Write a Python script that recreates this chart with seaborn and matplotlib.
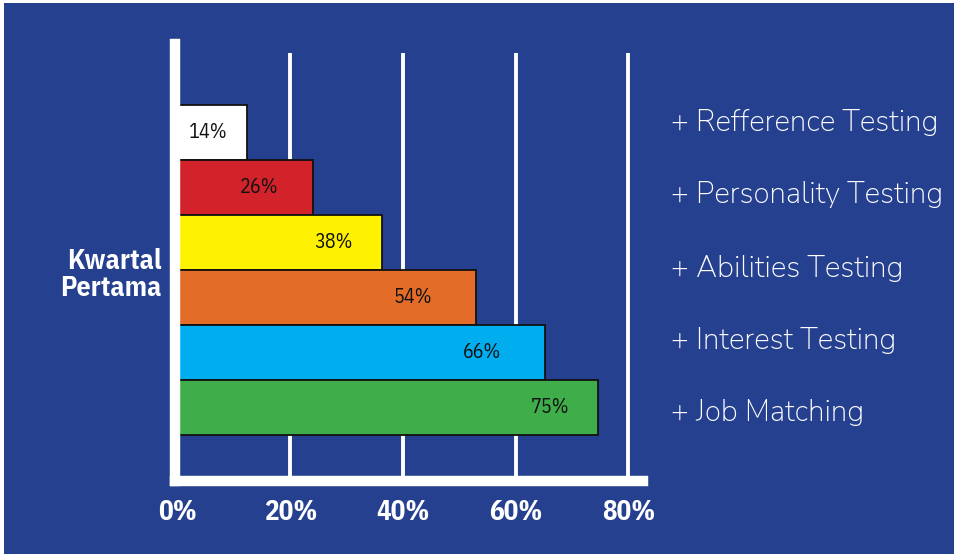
import matplotlib
matplotlib.use("Agg")
import matplotlib.pyplot as plt
import seaborn as sns
import pandas as pd
from matplotlib.patches import Rectangle

# ---- data ----
bar_ids = ["b1", "b2", "b3", "b4", "b5", "b6"]
values = [12.4, 24.0, 36.3, 53.0, 65.3, 74.7]          # bar lengths as drawn (percent)
value_labels = ["14%", "26%", "38%", "54%", "66%", "75%"]
bar_colors = ["#FFFFFF", "#D3232A", "#FFF200", "#E36C28", "#00AEEF", "#3FAD49"]
legend_labels = ["+ Refference Testing", "+ Personality Testing", "+ Abilities Testing",
                 "+ Interest Testing", "+ Job Matching"]
tick_values = [0, 20, 40, 60, 80]
tick_labels = ["0%", "20%", "40%", "60%", "80%"]
group_label = "Kwartal\nPertama"

BG = "#25408F"
W, H, DPI = 955, 554, 100
COND = ['IBM Plex Sans Condensed', 'Roboto Condensed', 'DejaVu Sans']
LIST_FONT = ['Nunito Sans', 'Lato', 'DejaVu Sans']

sns.set_theme(style="white")
plt.rcParams['font.family'] = COND

fig = plt.figure(figsize=(W / DPI, H / DPI), dpi=DPI)
fig.patch.set_facecolor("white")
fig.patches.append(Rectangle((4 / W, 0), (W - 5) / W, (H - 3) / H, transform=fig.transFigure,
                             facecolor=BG, edgecolor="none", zorder=-10))

# axes placement in pixels (spines use projecting caps of half their width)
SPW = 7.5
x0_px, x1_px = 174.5, 646.7 - 3.7
y_top_px, y_bot_px = 40 + 3.7, 480.5
ax = fig.add_axes([x0_px / W, 1 - y_bot_px / H, (x1_px - x0_px) / W, (y_bot_px - y_top_px) / H])
ax.set_facecolor("none")

df = pd.DataFrame({"bar": bar_ids, "value": values})
sns.barplot(data=df, y="bar", x="value", hue="bar", palette=bar_colors, order=bar_ids,
            hue_order=bar_ids, orient="h", width=1.0, dodge=False, legend=False,
            edgecolor="#111111", linewidth=1.3, saturation=1, ax=ax, zorder=3)

px_per = (628.3 - 177.6) / 80.0
ax.set_xlim(-(177.6 - x0_px) / px_per, (x1_px - 177.6) / px_per)
bar_h = 55.0
c0 = 132.5
ax.set_ylim(5 + (y_bot_px - 407.5) / bar_h, 0 - (c0 - y_top_px) / bar_h)

# gridlines (start a little below the left spine's top)
grid_top = 0 - (c0 - 53) / bar_h
ax.vlines(tick_values[1:], ymin=ax.get_ylim()[0], ymax=grid_top, colors="white",
          linewidth=2.8, zorder=1)

# spines
for s in ["top", "right"]:
    ax.spines[s].set_visible(False)
for s in ["left", "bottom"]:
    ax.spines[s].set_visible(True)
    ax.spines[s].set_color("white")
    ax.spines[s].set_linewidth(SPW)
    ax.spines[s].set_capstyle("projecting")
    ax.spines[s].set_zorder(4)

ax.set_xticks(tick_values)
ax.set_xticklabels(tick_labels, fontsize=19.5, fontweight="bold", color="white", family=COND)
ax.tick_params(axis="x", length=0, pad=13)
ax.set_yticks([])
ax.set_xlabel("")
ax.set_ylabel("")

# value labels (pixel offsets from bar end)
label_offsets = [-39, -54, -49, -63, -63, -48]
for i, (v, lab, off) in enumerate(zip(values, value_labels, label_offsets)):
    ax.annotate(lab, xy=(v, i), xytext=(off * 0.72, 0), textcoords="offset points",
                ha="center", va="center", fontsize=14.5, color="#111111", zorder=5, family=COND)

# group label
fig.text(161.5 / W, 1 - 275 / H, group_label, ha="right", va="center", fontsize=20,
         fontweight="bold", color="white", linespacing=1.02, family=COND)

# right-hand list
ys = [122, 195, 268, 341, 413]
for lab, y in zip(legend_labels, ys):
    fig.text(671 / W, 1 - y / H, lab, ha="left", va="center", fontsize=21.3,
             fontweight=500, color="white", family=LIST_FONT)

fig.savefig("out.png", dpi=DPI, facecolor=fig.get_facecolor())
